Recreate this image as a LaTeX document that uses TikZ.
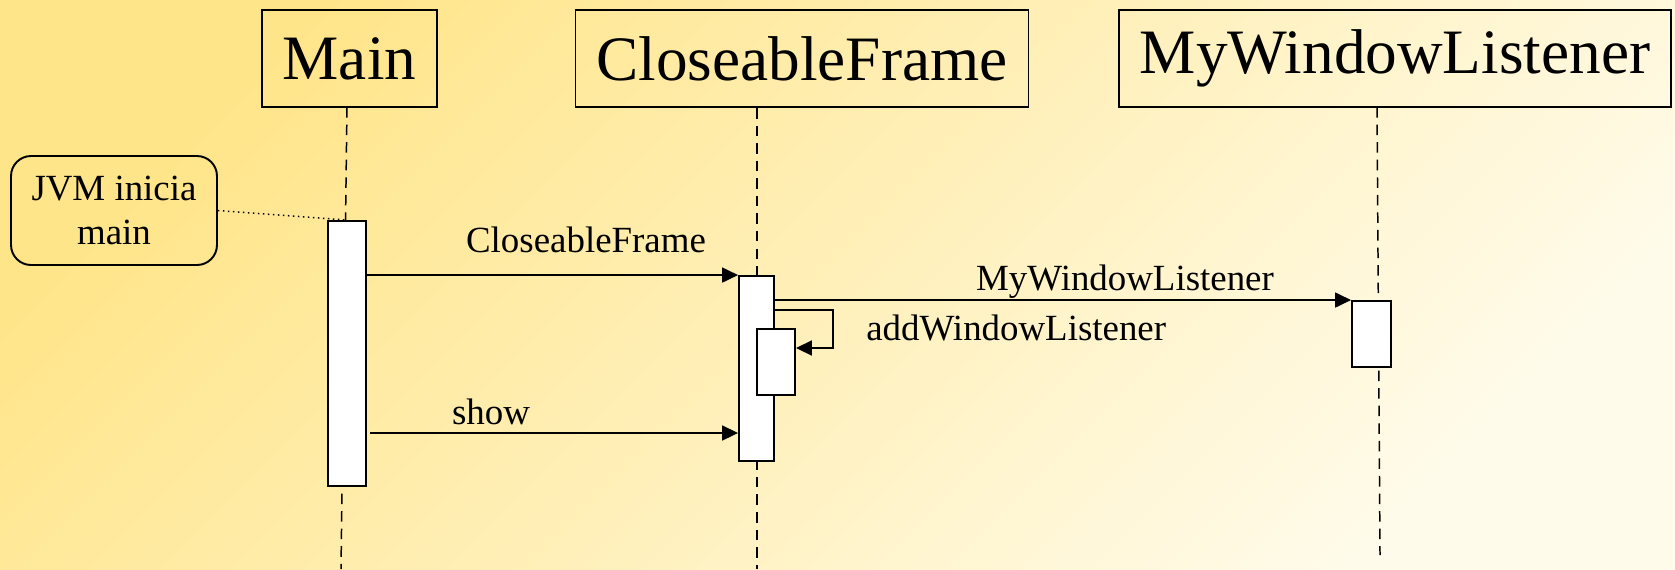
\documentclass[tikz,border=0pt]{standalone}
\usepackage{fontspec}
\setmainfont{Liberation Serif}
\usepackage{xcolor}
\usetikzlibrary{arrows.meta,positioning,calc}

\definecolor{bgtop}{RGB}{255,229,138}
\definecolor{bgbot}{RGB}{255,251,234}

\tikzset{
  header/.style={draw, line width=1.1pt, minimum height=1.94cm, inner xsep=0.42cm,
    font=\fontsize{36}{40}\selectfont},
  act/.style={draw, line width=1.1pt, fill=white, inner sep=0pt},
  lifeline/.style={line width=0.85pt, dash pattern=on 6pt off 4pt},
  msg/.style={line width=0.85pt, -{Triangle[length=9pt,width=8.5pt]}},
  lbl/.style={font=\fontsize{21}{25}\selectfont, anchor=base, inner sep=0pt},
  note/.style={draw, line width=1.1pt, rounded corners=0.4cm, minimum width=4.12cm,
    minimum height=2.18cm, align=center, font=\fontsize{21}{25}\selectfont}
}

\begin{document}
\begin{tikzpicture}[x=0.02cm,y=-0.02cm]
% background
\useasboundingbox (0,0) rectangle (1675,569);
\shade[top color=bgtop, bottom color=bgbot, shading angle=45] (0,0) rectangle (1675,569);

% objects
\node[header] (main) at (349.5,58.5) {Main};
\node[header] (frame) at (802,58.5) {CloseableFrame};
\node[header] (listener) at (1395,58.5) {MyWindowListener};

% lifelines
\coordinate (mainend) at (341,569);
\coordinate (frameend) at (757,569);
\coordinate (listtop) at (1377,107);
\coordinate (listend) at (1380,555);
\draw[lifeline] (347,107) -- (mainend);
\draw[lifeline] (frame.south -| frameend) -- (frameend);
\draw[lifeline] (listtop) -- (listend);

% activations
\node[act, minimum width=0.76cm, minimum height=5.3cm] (mainact) at (347,353.5) {};
\node[act, minimum width=0.7cm, minimum height=3.7cm] (frameact) at (756.5,368.5) {};
\node[act, minimum width=0.76cm, minimum height=1.32cm] (selfact) at (776,362) {};
\node[act, minimum width=0.78cm, minimum height=1.32cm] (listact) at (1371.5,334) {};

% note
\node[note] (jvm) at (114,210.5) {JVM inicia\\main};
\draw[line width=0.85pt, dotted] (jvm.east) -- (mainact.north);

% messages
\draw[msg] (mainact.east |- frameact.north) -- (frameact.north west);
\node[lbl] (lblframe) at (586,252) {CloseableFrame};

\draw[msg] (frameact.east |- listact.north) -- (listact.north west);
\node[lbl] (lbllistener) at (1125,290) {MyWindowListener};

\coordinate (selfturn) at (833,310);
\draw[msg] (frameact.east |- selfturn) -- (selfturn) |- (selfact.east |- 0,348);
\node[lbl, anchor=base west] (lbladd) at (866,340) {addWindowListener};

\draw[msg] (370,433) -- (frameact.west |- 0,433);
\node[lbl] (lblshow) at (491,424) {show};

\end{tikzpicture}
\end{document}
